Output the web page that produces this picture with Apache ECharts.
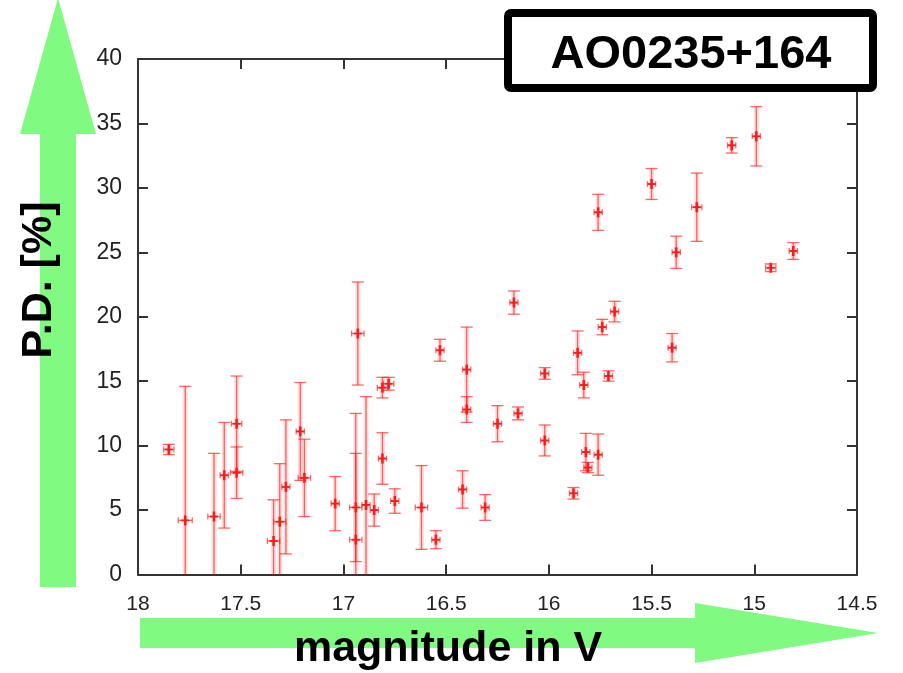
<!DOCTYPE html>
<html>
<head>
<meta charset="utf-8">
<script src="https://cdn.jsdelivr.net/npm/echarts@6/dist/echarts.min.js"></script>
<style>
  html, body { margin: 0; padding: 0; background: #fff; }
  #chart { width: 903px; height: 673px; }
</style>
</head>
<body>
<div id="chart"></div>
<script>
// Polarization degree of AO0235+164 against V magnitude
const magnitude = [
  17.85, 17.77, 17.63, 17.58, 17.52, 17.52, 17.34, 17.31, 17.28, 17.21,
  17.19, 16.93, 17.04, 16.94, 16.94, 16.89, 16.85, 16.81, 16.81, 16.78,
  16.75, 16.62, 16.55, 16.53, 16.40, 16.40, 16.42, 16.31, 16.25, 16.17,
  16.15, 16.02, 16.02, 15.86, 15.83, 15.88, 15.82, 15.81, 15.76, 15.74,
  15.71, 15.68, 15.76, 15.50, 15.28, 15.38, 15.40, 15.11, 14.99, 14.92,
  14.81
];
const polDegree = [
  9.7, 4.2, 4.5, 7.7, 11.7, 7.9, 2.6, 4.1, 6.8, 11.1,
  7.5, 18.7, 5.5, 5.2, 2.7, 5.4, 5.0, 9.0, 14.5, 14.8,
  5.7, 5.2, 2.7, 17.4, 15.9, 12.8, 6.6, 5.2, 11.7, 21.1,
  12.5, 15.6, 10.4, 17.2, 14.7, 6.3, 9.5, 8.3, 9.3, 19.2,
  15.4, 20.4, 28.1, 30.3, 28.5, 25.0, 17.6, 33.3, 34.0, 23.8,
  25.1
];
const polDegreeErr = [
  0.4, 10.4, 4.9, 4.1, 3.7, 2.0, 3.2, 4.5, 5.2, 3.8,
  3.0, 4.0, 2.1, 4.2, 9.8, 8.4, 1.25, 2.0, 0.8, 0.5,
  0.95, 3.25, 0.7, 0.85, 3.3, 1.0, 1.45, 1.0, 1.4, 0.9,
  0.5, 0.45, 1.2, 1.7, 1.0, 0.45, 1.45, 0.4, 1.6, 0.6,
  0.4, 0.8, 1.4, 1.2, 2.65, 1.25, 1.1, 0.6, 2.3, 0.3,
  0.65
];
const magnitudeErr = [
  0.025, 0.034, 0.03, 0.02, 0.025, 0.03, 0.03, 0.03, 0.02, 0.02,
  0.03, 0.03, 0.02, 0.03, 0.03, 0.02, 0.02, 0.02, 0.025, 0.025,
  0.02, 0.03, 0.02, 0.02, 0.02, 0.02, 0.02, 0.02, 0.02, 0.02,
  0.02, 0.02, 0.02, 0.02, 0.02, 0.02, 0.02, 0.02, 0.02, 0.02,
  0.02, 0.02, 0.02, 0.02, 0.025, 0.02, 0.02, 0.02, 0.02, 0.025,
  0.02
];
const magTicks = { min: 14.5, max: 18, step: 0.5 };
const pdTicks = { min: 0, max: 40, step: 5 };

const points = magnitude.map((m, i) => [m, polDegree[i], polDegreeErr[i], magnitudeErr[i]]);

const barColor = 'rgba(255,40,40,0.7)';
const haloColor = 'rgba(255,0,0,0.13)';
const markColor = '#ff1a1a';

function renderErrorBar(params, api) {
  const m = api.value(0), v = api.value(1), e = api.value(2), xe = api.value(3);
  const lo = Math.max(pdTicks.min, v - e);
  const hi = Math.min(pdTicks.max, v + e);
  const c = api.coord([m, v]);
  const pLo = api.coord([m, lo]);
  const pHi = api.coord([m, hi]);
  const pA = api.coord([m + xe, v]);
  const pB = api.coord([m - xe, v]);
  const capW = 6, capH = 3;
  const kids = [];
  const seg = (x1, y1, x2, y2, style) => kids.push({ type: 'line', shape: { x1, y1, x2, y2 }, style });
  const bar = { stroke: barColor, lineWidth: 1.3 };
  const halo = { stroke: haloColor, lineWidth: 5 };
  // soft halo underneath the vertical bar
  seg(c[0], pLo[1], c[0], pHi[1], halo);
  seg(c[0], pLo[1], c[0], pHi[1], bar);
  seg(c[0] - capW, pHi[1], c[0] + capW, pHi[1], bar);
  if (v - e >= pdTicks.min) seg(c[0] - capW, pLo[1], c[0] + capW, pLo[1], bar);
  // horizontal error in magnitude
  seg(pA[0], c[1], pB[0], c[1], bar);
  seg(pA[0], c[1] - capH, pA[0], c[1] + capH, bar);
  seg(pB[0], c[1] - capH, pB[0], c[1] + capH, bar);
  // centre mark
  seg(c[0] - 4, c[1], c[0] + 4, c[1], { stroke: markColor, lineWidth: 1.8 });
  seg(c[0], c[1] - 5, c[0], c[1] + 5, { stroke: markColor, lineWidth: 2.6 });
  return { type: 'group', children: kids };
}

const axisLineStyle = { color: '#333', width: 2 };
const labelFont = 'Liberation Sans, Arial, sans-serif';

const chart = echarts.init(document.getElementById('chart'), null, { renderer: 'canvas' });
chart.setOption({
  animation: false,
  backgroundColor: '#fff',
  grid: { left: 138, right: 46, top: 59, bottom: 98.5, containLabel: false },
  xAxis: [
    {
      type: 'value', position: 'bottom', inverse: true,
      min: magTicks.min, max: magTicks.max, interval: magTicks.step,
      axisLine: { show: true, onZero: false, lineStyle: axisLineStyle },
      axisTick: { show: true, inside: true, length: 10, lineStyle: axisLineStyle },
      axisLabel: { fontSize: 21, color: '#222', margin: 19, fontFamily: labelFont },
      splitLine: { show: false }
    },
    {
      type: 'value', position: 'top', inverse: true,
      min: magTicks.min, max: magTicks.max, interval: magTicks.step,
      axisLine: { show: true, onZero: false, lineStyle: axisLineStyle },
      axisTick: { show: true, inside: true, length: 10, lineStyle: axisLineStyle },
      axisLabel: { show: false },
      splitLine: { show: false }
    }
  ],
  yAxis: [
    {
      type: 'value', position: 'left',
      min: pdTicks.min, max: pdTicks.max, interval: pdTicks.step,
      axisLine: { show: true, onZero: false, lineStyle: axisLineStyle },
      axisTick: { show: true, inside: true, length: 10, lineStyle: axisLineStyle },
      axisLabel: { fontSize: 23, color: '#222', margin: 16, fontFamily: labelFont },
      splitLine: { show: false }
    },
    {
      type: 'value', position: 'right',
      min: pdTicks.min, max: pdTicks.max, interval: pdTicks.step,
      axisLine: { show: true, onZero: false, lineStyle: axisLineStyle },
      axisTick: { show: true, inside: true, length: 10, lineStyle: axisLineStyle },
      axisLabel: { show: false },
      splitLine: { show: false }
    }
  ],
  series: [
    {
      type: 'custom',
      xAxisIndex: 0, yAxisIndex: 0,
      data: points,
      renderItem: renderErrorBar,
      z: 5
    }
  ],
  graphic: [
    {
      type: 'polygon', z: -10, silent: true,
      shape: { points: [[40, 587], [40, 134], [20, 134], [58, -2], [96, 134], [76, 134], [76, 587]] },
      style: { fill: '#80fa80' }
    },
    {
      type: 'polygon', z: -10, silent: true,
      shape: { points: [[140, 618], [695, 618], [695, 603], [878, 633], [695, 663], [695, 648], [140, 648]] },
      style: { fill: '#80fa80' }
    },
    {
      type: 'text', z: 50, silent: true,
      x: 39, y: 280, rotation: Math.PI / 2,
      style: {
        text: 'P.D. [%]', fill: '#000', font: 'bold 43px Liberation Sans, Arial, sans-serif',
        align: 'center', verticalAlign: 'middle'
      }
    },
    {
      type: 'text', z: 50, silent: true,
      x: 448, y: 649,
      style: {
        text: 'magnitude in V', fill: '#000', font: 'bold 43px Liberation Sans, Arial, sans-serif',
        align: 'center', verticalAlign: 'middle'
      }
    },
    {
      type: 'group', z: 100,
      children: [
        {
          type: 'rect', z: 100, silent: true,
          shape: { x: 508, y: 13, width: 365, height: 75, r: 3 },
          style: { fill: '#fff', stroke: '#000', lineWidth: 8 }
        },
        {
          type: 'text', z: 101, silent: true,
          x: 691, y: 55,
          style: {
            text: 'AO0235+164', fill: '#000', font: 'bold 47px Liberation Sans, Arial, sans-serif',
            align: 'center', verticalAlign: 'middle'
          }
        }
      ]
    }
  ]
});
</script>
</body>
</html>
